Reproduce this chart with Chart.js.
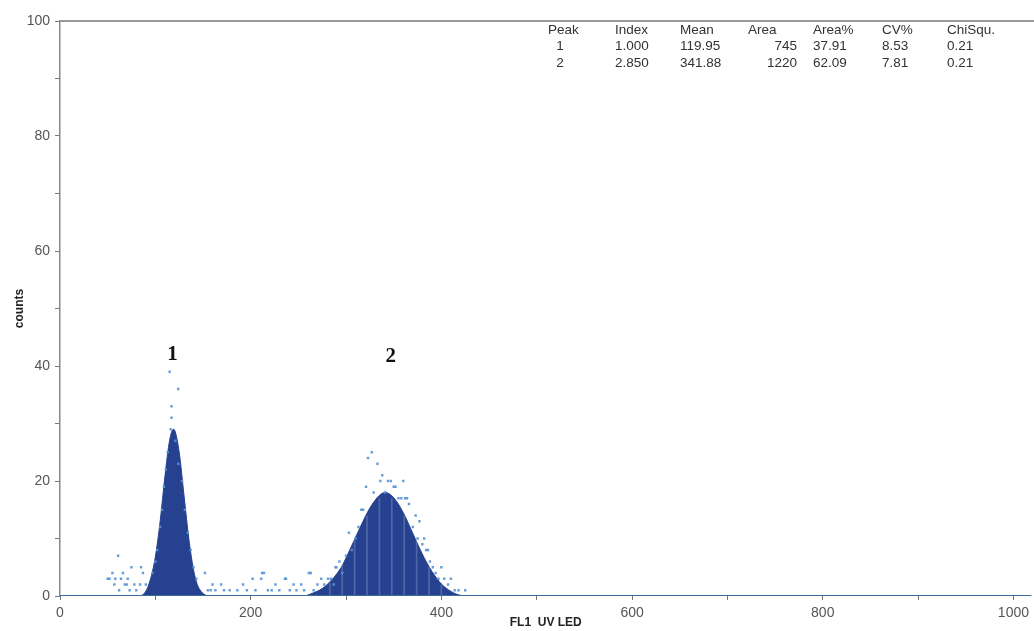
<!DOCTYPE html>
<html>
<head>
<meta charset="utf-8">
<title>FL1 UV LED histogram</title>
<script src="https://cdn.jsdelivr.net/npm/chart.js@4.4.1/dist/chart.umd.min.js"></script>
<style>
    body { margin: 0; background: #fff; }
    #wrap { width: 1034px; height: 631px; }
</style>
</head>
<body>
<div id="wrap"><canvas id="histogram" width="1034" height="631"></canvas></div>
<script>
// fitted peaks (channel, counts)
const curveX = [0, 84, 88, 92, 96, 100, 105, 110, 115, 119, 120, 125, 130, 135, 140, 144, 148, 152, 156,
    255, 265, 275, 285, 295, 305, 315, 325, 335, 341, 350, 360, 370, 380, 390, 400, 410, 418, 428, 1019];
const curveY = [0, 0, 0.4, 1.5, 3.6, 6.8, 12.9, 20.7, 27.1, 29, 28.9, 25.0, 17.6, 10.1, 4.6, 2.0, 0.8, 0.2, 0,
    0, 0.5, 1.3, 2.8, 5.0, 8.4, 12.0, 15.3, 17.5, 18.0, 17.1, 14.5, 10.9, 7.3, 4.3, 2.1, 0.8, 0.2, 0, 0];

// faint white channel lines inside peak 2
const stripeX = [283, 296, 309, 322, 335, 348, 361, 374, 387, 400];
const stripeY = [2.2, 5.4, 9.6, 13.9, 17.0, 17.0, 13.9, 9.6, 5.0, 1.9];

// raw channel counts
const rawX = [50, 52, 55, 57, 58, 61, 62, 64, 66, 68, 70, 71, 73, 75, 78, 80, 84, 85, 87, 90,
    97, 100, 102, 105, 107, 109, 111, 113, 116, 117, 117, 115, 121, 124, 124, 128, 131, 134, 137, 140, 143,
    152, 155, 158, 160, 163, 169, 172, 178, 186, 192, 196, 202, 205, 211, 212, 214, 218, 222, 226, 230,
    236, 237, 241, 245, 248, 253, 256, 261, 263, 266, 270, 274, 277, 281, 284, 287, 289, 290, 293, 296,
    300, 303, 306, 310, 313, 316, 318, 321, 323, 327, 329, 333, 336, 338, 341, 344, 347, 350, 352, 355,
    358, 360, 362, 364, 366, 370, 373, 375, 377, 380, 382, 384, 386, 388, 391, 394, 397, 400, 403, 407,
    410, 414, 418, 425];
const rawY = [3, 3, 4, 2, 3, 7, 1, 3, 4, 2, 2, 3, 1, 5, 2, 1, 2, 5, 4, 2,
    4, 6, 8, 12, 15, 19, 22, 25, 29, 31, 33, 39, 27, 23, 36, 20, 15, 11, 8, 5, 3,
    4, 1, 1, 2, 1, 2, 1, 1, 1, 2, 1, 3, 1, 3, 4, 4, 1, 1, 2, 1,
    3, 3, 1, 2, 1, 2, 1, 4, 4, 1, 2, 3, 2, 3, 3, 2, 5, 5, 6, 4,
    7, 11, 8, 10, 12, 15, 15, 19, 24, 25, 18, 23, 20, 21, 18, 20, 20, 19, 19, 17,
    17, 20, 17, 17, 16, 12, 14, 10, 13, 9, 10, 8, 8, 6, 5, 4, 3, 5, 3, 2,
    3, 1, 1, 1];

const baselineX = [0, 1019];
const baselineY = [0, 0];

const xTickValues = [0, 100, 200, 300, 400, 500, 600, 700, 800, 900, 1000];
const yTickValues = [0, 10, 20, 30, 40, 50, 60, 70, 80, 90, 100];

const peakLabelText = ['1', '2'];
const peakLabelX = [118, 347];
const peakLabelY = [41.9, 41.6];

const tableHeader = ['Peak', 'Index', 'Mean', 'Area', 'Area%', 'CV%', 'ChiSqu.'];
const tableRow1 = ['1', '1.000', '119.95', '745', '37.91', '8.53', '0.21'];
const tableRow2 = ['2', '2.850', '341.88', '1220', '62.09', '7.81', '0.21'];

const SANS = 'Arial, "Liberation Sans", sans-serif';
const SERIF = '"Times New Roman", "Liberation Serif", serif';

const HistogramChart = {
    chart: null,

    init() {
        const canvas = document.getElementById('histogram');
        this.chart = new Chart(canvas, {
            type: 'line',
            data: {
                datasets: [
                    {
                        type: 'scatter',
                        data: this.points(rawX, rawY),
                        backgroundColor: 'rgba(86, 146, 214, 0.9)',
                        borderWidth: 0,
                        pointRadius: 1.7,
                        pointStyle: 'rect',
                        order: 0,
                    },
                    {
                        type: 'line',
                        data: this.points(baselineX, baselineY),
                        borderColor: '#3d6b9c',
                        borderWidth: 2,
                        pointRadius: 0,
                        order: 1,
                    },
                    {
                        type: 'bar',
                        data: this.points(stripeX, stripeY),
                        backgroundColor: 'rgba(255, 255, 255, 0.2)',
                        barThickness: 1,
                        order: 2,
                    },
                    {
                        type: 'line',
                        data: this.points(curveX, curveY),
                        borderColor: '#26418f',
                        backgroundColor: '#26418f',
                        borderWidth: 1,
                        fill: 'origin',
                        cubicInterpolationMode: 'monotone',
                        pointRadius: 0,
                        order: 3,
                    },
                ],
            },
            options: {
                responsive: false,
                animation: false,
                devicePixelRatio: 1,
                layout: {
                    autoPadding: false,
                    padding: { top: 21, right: 0, left: 0, bottom: 0 },
                },
                plugins: {
                    legend: { display: false },
                    tooltip: { enabled: false },
                },
                scales: {
                    x: {
                        type: 'linear',
                        min: 0,
                        max: 1019,
                        offset: false,
                        afterBuildTicks: scale => { scale.ticks = xTickValues.map(value => ({ value })); },
                        afterFit: scale => { scale.height = 35; },
                        grid: { offset: false, drawOnChartArea: false, drawTicks: true, tickLength: 4, color: '#777' },
                        border: { display: false },
                        ticks: {
                            padding: 5,
                            maxRotation: 0,
                            color: '#555',
                            font: { family: SANS, size: 14 },
                            callback: value => (value % 200 === 0 ? value : ''),
                        },
                        title: {
                            display: true,
                            text: 'FL1  UV LED',
                            color: '#222',
                            font: { family: SANS, size: 12, weight: 'bold' },
                            padding: { top: 0, bottom: 1 },
                        },
                    },
                    y: {
                        min: 0,
                        max: 100,
                        afterBuildTicks: scale => { scale.ticks = yTickValues.map(value => ({ value })); },
                        afterFit: scale => { scale.width = 60; },
                        grid: { drawOnChartArea: false, drawTicks: true, tickLength: 5, color: '#777' },
                        border: { color: '#888', width: 1.5 },
                        ticks: {
                            padding: 5,
                            color: '#555',
                            font: { family: SANS, size: 14 },
                            callback: value => (value % 20 === 0 ? value : ''),
                        },
                        title: {
                            display: true,
                            text: 'counts',
                            color: '#222',
                            font: { family: SANS, size: 12, weight: 'bold' },
                            padding: { top: 12, bottom: 0 },
                        },
                    },
                },
            },
            plugins: [this.framePlugin(), this.labelPlugin(), this.tablePlugin()],
        });
    },

    points(xs, ys) {
        return xs.map((x, i) => ({ x, y: ys[i] }));
    },

    framePlugin() {
        return {
            id: 'frame',
            beforeDatasetsDraw(chart) {
                const { ctx, chartArea } = chart;
                ctx.save();
                ctx.strokeStyle = '#999';
                ctx.lineWidth = 2;
                ctx.beginPath();
                ctx.moveTo(chartArea.left, chartArea.top);
                ctx.lineTo(chart.width, chartArea.top);
                ctx.stroke();
                ctx.restore();
            },
        };
    },

    labelPlugin() {
        return {
            id: 'peakLabels',
            afterDatasetsDraw(chart) {
                const { ctx, scales } = chart;
                ctx.save();
                ctx.fillStyle = '#111';
                ctx.font = `bold 21px ${SERIF}`;
                ctx.textAlign = 'center';
                ctx.textBaseline = 'middle';
                peakLabelText.forEach((text, i) => {
                    ctx.fillText(text, scales.x.getPixelForValue(peakLabelX[i]), scales.y.getPixelForValue(peakLabelY[i]));
                });
                ctx.restore();
            },
        };
    },

    tablePlugin() {
        // column left edges, and which columns are right aligned
        const columns = [548, 615, 680, 748, 813, 882, 947];
        const rightEdge = { 3: 797 };
        const rowY = [30, 46, 63];
        return {
            id: 'peakTable',
            afterDraw(chart) {
                const ctx = chart.ctx;
                ctx.save();
                ctx.fillStyle = '#333';
                ctx.font = `13.5px ${SANS}`;
                ctx.textBaseline = 'middle';
                [tableHeader, tableRow1, tableRow2].forEach((row, r) => {
                    row.forEach((cell, c) => {
                        if (r > 0 && c === 0) {
                            ctx.textAlign = 'center';
                            ctx.fillText(cell, 560, rowY[r]);
                        } else if (r > 0 && rightEdge[c]) {
                            ctx.textAlign = 'right';
                            ctx.fillText(cell, rightEdge[c], rowY[r]);
                        } else {
                            ctx.textAlign = 'left';
                            ctx.fillText(cell, columns[c], rowY[r]);
                        }
                    });
                });
                ctx.restore();
            },
        };
    },
};

HistogramChart.init();
</script>
</body>
</html>
